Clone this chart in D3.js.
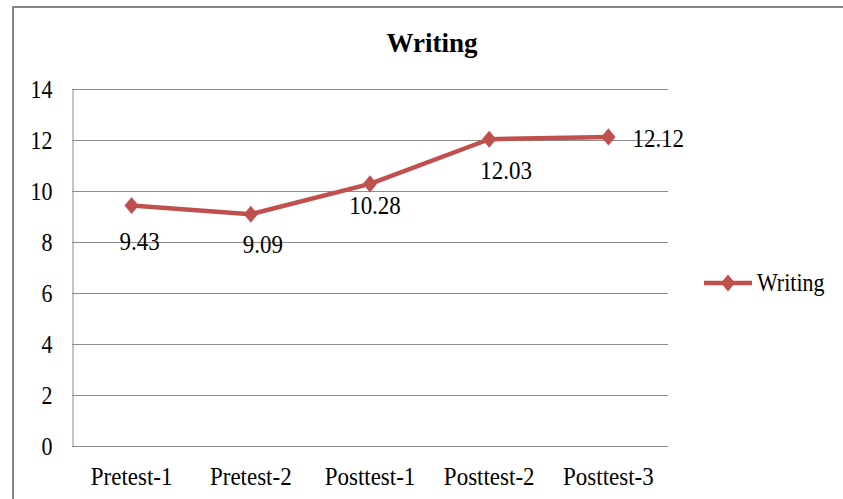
<!DOCTYPE html>
<html>
<head>
<meta charset="utf-8">
<script src="https://cdn.jsdelivr.net/npm/d3@7"></script>
<style>
  body { margin: 0; background: #fff; }
  text { font-family: "Liberation Serif", "Times New Roman", serif; fill: #000; }
  .tall { transform-box: fill-box; transform-origin: center; transform: scaleY(1.12); }
</style>
</head>
<body>
<svg id="chart" width="843" height="499"></svg>
<script>
var categories = ["Pretest-1", "Pretest-2", "Posttest-1", "Posttest-2", "Posttest-3"];
var values = [9.43, 9.09, 10.28, 12.03, 12.12];
var yTicks = [0, 2, 4, 6, 8, 10, 12, 14];
var seriesName = "Writing";

// label nudges (pixels, relative to the marker) as placed in the source
var labelDx = [8, 12, 5, 17, 24];
var labelDy = [44, 38, 29, 39, 9];

var svg = d3.select("#chart");
var lineColor = "#c0504d";

// outer chart border (runs off the right/bottom edge like the source)
svg.append("rect")
   .attr("x", 13).attr("y", 7)
   .attr("width", 850).attr("height", 500)
   .attr("fill", "none")
   .attr("stroke", "#868686")
   .attr("stroke-width", 2);

var plotLeft = 72, plotRight = 668, plotTop = 89, plotBottom = 446;

var x = d3.scaleBand()
          .domain(categories)
          .range([plotLeft, plotRight]);

var y = d3.scaleLinear()
          .domain([0, 14])
          .range([plotBottom, plotTop]);

// gridlines
svg.append("g")
   .selectAll("line")
   .data(yTicks)
   .enter()
   .append("line")
   .attr("x1", plotLeft).attr("x2", plotRight)
   .attr("y1", function(d) { return Math.round(y(d)) + 0.5; })
   .attr("y2", function(d) { return Math.round(y(d)) + 0.5; })
   .attr("stroke", "#8c8c8c")
   .attr("stroke-width", 1);

// y axis
var yAxis = d3.axisLeft(y).tickValues(yTicks).tickSize(0).tickPadding(20);
var gy = svg.append("g")
   .attr("transform", "translate(" + (plotLeft + 0.5) + ",0)")
   .call(yAxis);
gy.select(".domain").attr("stroke", "#8c8c8c");
gy.selectAll("text")
  .attr("class", "tall")
  .attr("font-size", 22)
  .attr("font-family", "Liberation Serif")
  .attr("dy", "0.33em");

// x axis
var xAxis = d3.axisBottom(x).tickSize(0).tickPadding(22);
var gx = svg.append("g")
   .attr("transform", "translate(0," + plotBottom + ")")
   .call(xAxis);
gx.select(".domain").remove();
gx.selectAll("text")
  .attr("class", "tall")
  .attr("font-size", 23)
  .attr("font-family", "Liberation Serif");

// title
svg.append("text")
   .attr("x", 432).attr("y", 52)
   .attr("text-anchor", "middle")
   .attr("font-size", 27)
   .attr("font-weight", "bold")
   .text(seriesName);

var cx = function(d, i) { return x(categories[i]) + x.bandwidth() / 2; };

var line = d3.line()
   .x(function(d, i) { return cx(d, i); })
   .y(function(d) { return y(d); });

svg.append("path")
   .datum(values)
   .attr("d", line)
   .attr("fill", "none")
   .attr("stroke", lineColor)
   .attr("stroke-width", 4.5)
   .attr("stroke-linejoin", "round");

var diamond = d3.symbol().type(d3.symbolDiamond2).size(130);

svg.selectAll("path.marker")
   .data(values)
   .enter()
   .append("path")
   .attr("class", "marker")
   .attr("d", diamond)
   .attr("transform", function(d, i) { return "translate(" + cx(d, i) + "," + y(d) + ") scale(1,1.2)"; })
   .attr("fill", lineColor);

// data labels
svg.selectAll("text.lbl")
   .data(values)
   .enter()
   .append("text")
   .attr("class", "lbl tall")
   .attr("font-size", 23)
   .attr("x", function(d, i) { return cx(d, i) + labelDx[i]; })
   .attr("y", function(d, i) { return y(d) + labelDy[i]; })
   .attr("text-anchor", function(d, i) { return i == values.length - 1 ? "start" : "middle"; })
   .text(function(d) { return d.toFixed(2); });

// legend
var lg = svg.append("g").attr("transform", "translate(704,283)");
lg.append("line")
  .attr("x1", 0).attr("x2", 48)
  .attr("stroke", lineColor).attr("stroke-width", 4.5);
lg.append("path")
  .attr("d", diamond)
  .attr("transform", "translate(24,0) scale(1,1.2)")
  .attr("fill", lineColor);
lg.append("text")
  .attr("class", "tall")
  .attr("x", 53).attr("y", 7)
  .attr("font-size", 22)
  .text(seriesName);
</script>
</body>
</html>
